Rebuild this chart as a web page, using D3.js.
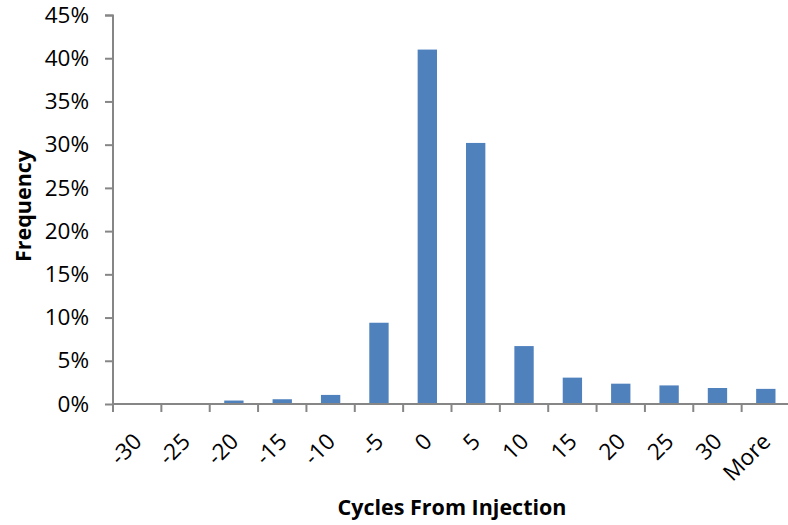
<!DOCTYPE html>
<html>
<head>
<meta charset="utf-8">
<script src="https://cdn.jsdelivr.net/npm/d3@7"></script>
<style>
  body { margin: 0; background: #fff; }
  svg text { font-family: "Open Sans", "Noto Sans", sans-serif; fill: #000; }
  .axis path, .axis line { stroke: #868686; stroke-width: 2; }
</style>
</head>
<body>
<svg id="viz" width="788" height="525"></svg>
<script>
// categories and frequencies (fraction)
var categories = ["-30", "-25", "-20", "-15", "-10", "-5", "0", "5", "10", "15", "20", "25", "30", "More"];
var frequency = [0, 0, 0.004, 0.0055, 0.0105, 0.094, 0.41, 0.302, 0.067, 0.0305, 0.0235, 0.0215, 0.0185, 0.0175];
var yTicks = [0, 0.05, 0.10, 0.15, 0.20, 0.25, 0.30, 0.35, 0.40, 0.45];

var svg = d3.select("#viz");
var margin = { top: 15, right: 0, bottom: 121, left: 113 };
var w = 788 - margin.left - margin.right,
    h = 525 - margin.top - margin.bottom;

var data = categories.map(function (c, i) { return { cat: c, value: frequency[i] }; });

var xScale = d3.scaleBand().domain(categories).range([0, 677]).paddingInner(0.6).paddingOuter(0.3),
    yScale = d3.scaleLinear().domain([0, 0.45]).range([h, 0]);

var g = svg.append("g").attr("transform", "translate(" + margin.left + "," + margin.top + ")");

// bars
g.selectAll(".bar")
    .data(data)
    .enter()
    .append("rect")
    .attr("class", "bar")
    .attr("x", function (d) { return xScale(d.cat); })
    .attr("width", xScale.bandwidth())
    .attr("y", function (d) { return yScale(d.value); })
    .attr("height", function (d) { return h - yScale(d.value); })
    .attr("fill", "#4f81bd");

// y axis
var yAxis = d3.axisLeft(yScale).tickValues(yTicks).tickSize(8).tickPadding(16)
    .tickFormat(d3.format(".0%"));
var gy = g.append("g").attr("class", "y axis").call(yAxis);
gy.select(".domain").attr("d", "M-8,0.5H0V" + h);
gy.selectAll("text").style("font-size", "22.5px");

// x axis: ticks sit on band boundaries, like Excel
var step = xScale.step();
var gx = g.append("g").attr("class", "x axis").attr("transform", "translate(0," + h + ")");
gx.append("line").attr("x1", 0).attr("x2", w).attr("y1", 0).attr("y2", 0);
gx.selectAll(".tick")
    .data(categories)
    .enter()
    .append("line")
    .attr("class", "tick")
    .attr("x1", function (d, i) { return i * step; })
    .attr("x2", function (d, i) { return i * step; })
    .attr("y1", 0)
    .attr("y2", 8);
gx.selectAll(".lbl")
    .data(categories)
    .enter()
    .append("text")
    .attr("class", "lbl")
    .attr("transform", function (d) {
        return "translate(" + (xScale(d) + xScale.bandwidth() / 2 + 6) + ",39) rotate(-45)";
    })
    .style("text-anchor", "end")
    .style("font-size", "22.5px")
    .text(function (d) { return d; });

// axis titles
svg.append("text")
    .attr("x", 452)
    .attr("y", 515)
    .style("text-anchor", "middle")
    .style("font-size", "21.5px")
    .style("font-weight", "bold")
    .text("Cycles From Injection");
svg.append("text")
    .attr("transform", "translate(31,206) rotate(-90)")
    .style("text-anchor", "middle")
    .style("font-size", "21.5px")
    .style("font-weight", "bold")
    .text("Frequency");
</script>
</body>
</html>
